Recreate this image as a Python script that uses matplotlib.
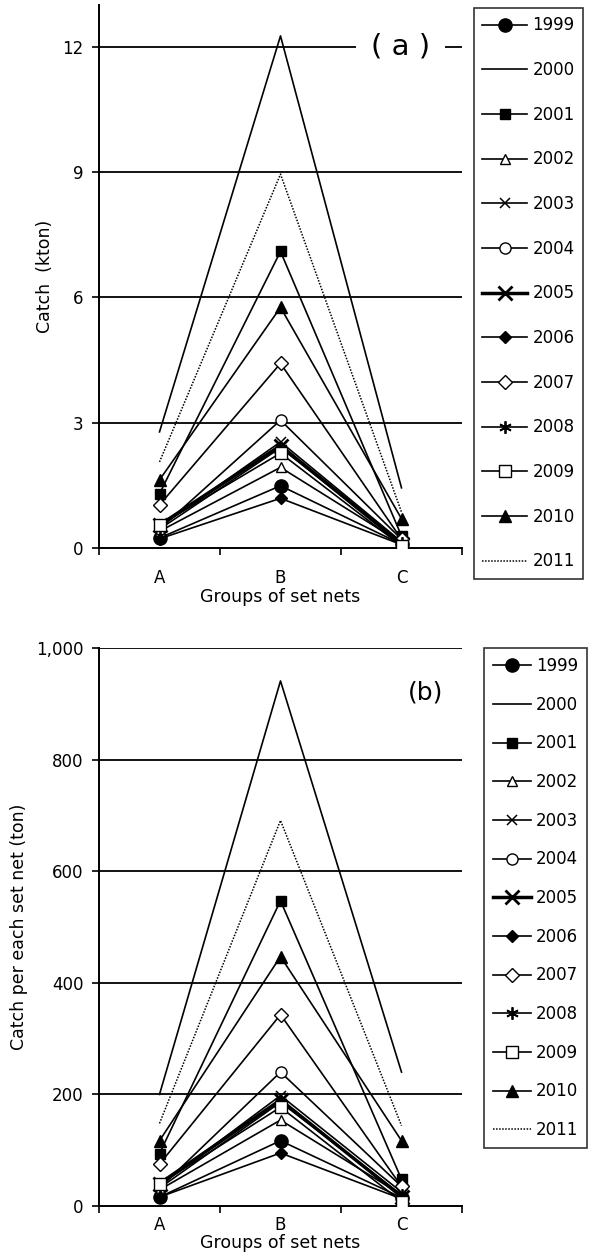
import numpy as np
import matplotlib
matplotlib.use("Agg")
import matplotlib.pyplot as plt
from matplotlib.ticker import FuncFormatter

groups = ["A", "B", "C"]
years = ["1999", "2000", "2001", "2002", "2003", "2004", "2005",
         "2006", "2007", "2008", "2009", "2010", "2011"]

# (a) catch in kton, per group A, B, C
catch_kton = {
    "1999": [0.24, 1.49, 0.09],
    "2000": [2.78, 12.26, 1.44],
    "2001": [1.30, 7.10, 0.29],
    "2002": [0.40, 1.93, 0.12],
    "2003": [0.50, 2.54, 0.15],
    "2004": [0.45, 3.06, 0.21],
    "2005": [0.55, 2.45, 0.10],
    "2006": [0.22, 1.19, 0.08],
    "2007": [1.03, 4.42, 0.21],
    "2008": [0.45, 2.40, 0.12],
    "2009": [0.55, 2.27, 0.05],
    "2010": [1.63, 5.76, 0.70],
    "2011": [2.06, 8.95, 0.86],
}

# (b) catch per set net in ton
catch_per_net = {
    "1999": [16, 117, 15],
    "2000": [200, 941, 240],
    "2001": [94, 547, 48],
    "2002": [29, 154, 20],
    "2003": [36, 198, 25],
    "2004": [32, 240, 35],
    "2005": [40, 190, 17],
    "2006": [16, 95, 13],
    "2007": [75, 343, 35],
    "2008": [32, 186, 20],
    "2009": [39, 177, 8],
    "2010": [117, 447, 117],
    "2011": [148, 691, 144],
}

# line / marker style per year
styles = {
    "1999": dict(marker="o", ms=9.5, mfc="black", lw=1.2),
    "2000": dict(marker="None", lw=1.2),
    "2001": dict(marker="s", ms=6.5, mfc="black", lw=1.2),
    "2002": dict(marker="^", ms=7, mfc="white", lw=1.2),
    "2003": dict(marker="x", ms=7, mew=1.1, lw=1.2),
    "2004": dict(marker="o", ms=8, mfc="white", lw=1.2),
    "2005": dict(marker="x", ms=10, mew=2.0, lw=2.5),
    "2006": dict(marker="D", ms=6, mfc="black", lw=1.2),
    "2007": dict(marker="D", ms=7.5, mfc="white", lw=1.2),
    "2008": dict(marker=(6, 2, 0), ms=9, mew=1.3, lw=1.2),
    "2009": dict(marker="s", ms=8, mfc="white", lw=1.2),
    "2010": dict(marker="^", ms=8, mfc="black", lw=1.2),
    "2011": dict(marker="None", lw=1.1, ls=(0, (1, 1))),
}

plt.rcParams["font.family"] = ["DejaVu Sans"]

W, H = 600, 1253
fig = plt.figure(figsize=(W / 100, H / 100), dpi=100)


def px_axes(left, top, right, bottom):
    return fig.add_axes([left / W, 1 - bottom / H, (right - left) / W, (bottom - top) / H])


def draw_panel(ax, data, ylim, yticks, ylabel, tag, tag_xy, tag_size, tag_pad,
               fmt=None, xpad=15, labelpad=3):
    x = np.arange(len(groups)) + 0.5
    for yt in yticks[1:]:
        ax.axhline(yt, color="black", lw=1.3, zorder=1)
    for yr in years:
        st = dict(styles[yr])
        ax.plot(x, data[yr], color="black", mec="black", label=yr,
                zorder=3, **st)
    ax.set_xlim(0, 3)
    ax.set_ylim(*ylim)
    ax.set_yticks(yticks)
    if fmt:
        ax.yaxis.set_major_formatter(FuncFormatter(fmt))
    ax.set_xticks([0, 1, 2, 3])
    ax.set_xticklabels([])
    ax.set_xticks(x, minor=True)
    ax.set_xticklabels(groups, minor=True)
    ax.tick_params(axis="x", which="major", direction="out", length=5, width=1.2)
    ax.tick_params(axis="x", which="minor", length=0, pad=xpad, labelsize=12)
    ax.tick_params(axis="y", direction="out", length=5, width=1.2, pad=6, labelsize=12)
    for s in ["top", "right"]:
        ax.spines[s].set_visible(False)
    for s in ["left", "bottom"]:
        ax.spines[s].set_linewidth(1.4)
    ax.set_ylabel(ylabel, fontsize=12.5, labelpad=6)
    ax.set_xlabel("Groups of set nets", fontsize=12.5, labelpad=labelpad)
    ax.text(tag_xy[0], tag_xy[1], tag, fontsize=tag_size, ha="center", va="center",
            zorder=2, bbox=dict(facecolor="white", edgecolor="none", pad=tag_pad))


ax_a = px_axes(99, 5, 462, 548)
draw_panel(ax_a, catch_kton, (0, 13), [0, 3, 6, 9, 12], "Catch  (kton)",
           "( a )", (2.49, 12.0), 21, 11, xpad=15, labelpad=1)

ax_b = px_axes(99, 648, 462, 1206)
draw_panel(ax_b, catch_per_net, (0, 1000), [0, 200, 400, 600, 800, 1000],
           "Catch per each set net (ton)", "(b)", (2.7, 920), 18, 4,
           fmt=lambda v, p: f"{int(v):,}", xpad=7, labelpad=0)

leg_kw = dict(loc="upper left", borderaxespad=0, frameon=True, fancybox=False,
              numpoints=1, fontsize=12, handletextpad=0.3)

h, l = ax_a.get_legend_handles_labels()
leg_a = fig.legend(h, l, bbox_to_anchor=(474 / W, 1 - 8 / H), borderpad=0.5,
                   labelspacing=1.6, handlelength=2.7, **leg_kw)
leg_a.get_frame().set_edgecolor("black")
leg_a.get_frame().set_linewidth(1.2)

h, l = ax_b.get_legend_handles_labels()
leg_b = fig.legend(h, l, bbox_to_anchor=(484 / W, 1 - 648 / H), borderpad=0.55,
                   labelspacing=1.24, handlelength=2.25, **leg_kw)
leg_b.get_frame().set_edgecolor("black")
leg_b.get_frame().set_linewidth(1.2)

fig.savefig("out.png", dpi=100)
